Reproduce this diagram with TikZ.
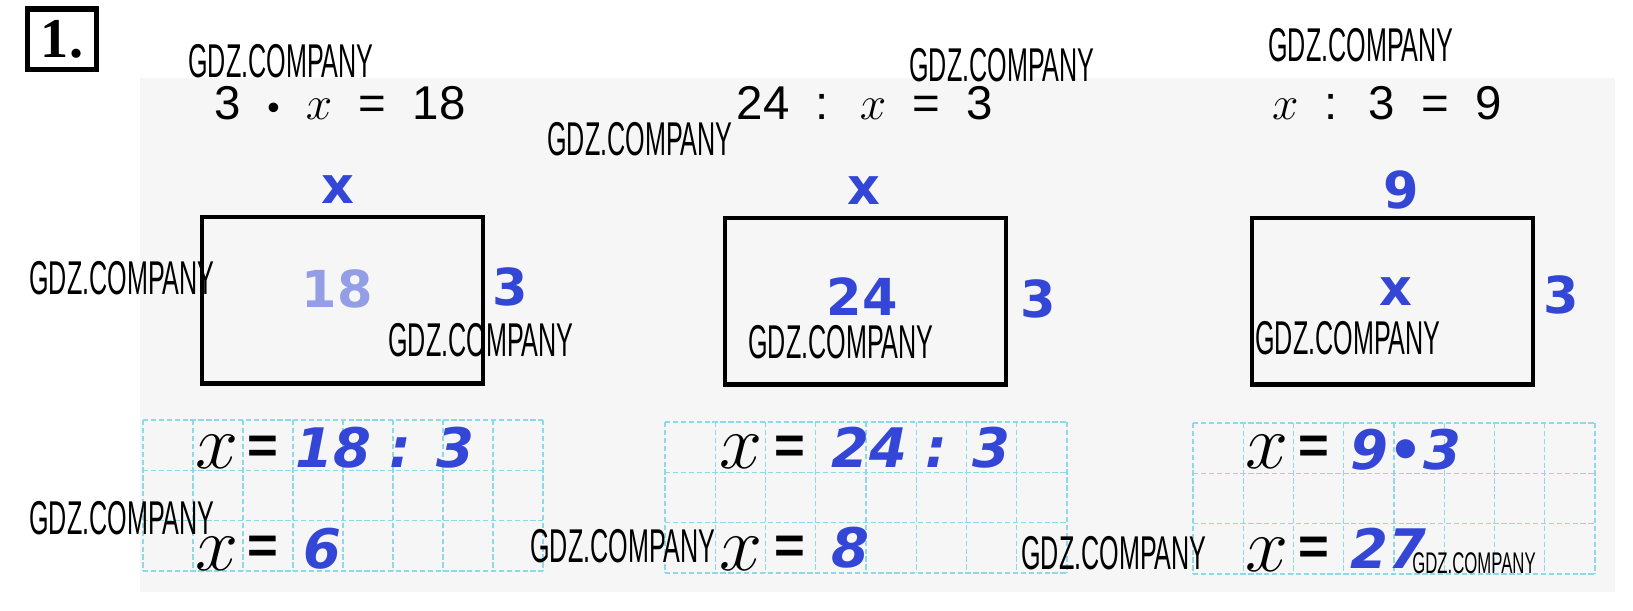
\RequirePackage{fix-cm}
\documentclass[tikz,border=0pt]{standalone}
\usepackage{fontspec}
\setmainfont{Liberation Sans}
\newfontfamily\answerfont{DejaVu Sans}
\newfontfamily\markfont{Liberation Sans}
\newfontfamily\taskfont{Liberation Serif}
\definecolor{inkblue}{RGB}{52,70,214}
\definecolor{fadeblue}{RGB}{148,158,230}
\definecolor{gridcyan}{RGB}{140,218,232}
\definecolor{pagegray}{RGB}{246,246,246}
\newcommand{\smalldot}{{\fontsize{20}{20}\selectfont•}}

\begin{document}
\begin{tikzpicture}[x=0.02cm, y=-0.02cm,
    eqtext/.style={font=\fontsize{27}{30}\selectfont, inner sep=0pt},
    bluemark/.style={font=\answerfont\bfseries\fontsize{29}{32}\selectfont, text=inkblue, inner sep=0pt},
    answer/.style={font=\answerfont\bfseries\itshape\fontsize{31}{34}\selectfont, text=inkblue, inner sep=0pt},
    scriptx/.style={font=\fontsize{44}{46}\selectfont, inner sep=0pt},
    eqsign/.style={font=\bfseries\fontsize{30}{32}\selectfont, inner sep=0pt},
    figbox/.style={draw, line width=2.3pt, minimum width=5.62cm, minimum height=3.34cm, inner sep=0pt},
    gridline/.style={draw=gridcyan, line width=0.6pt, dash pattern=on 3pt off 1.5pt},
    wmark/.style={font=\markfont\fontsize{27}{30}\selectfont, inner sep=0pt}]
  \useasboundingbox (0,0) rectangle (1633,610);
  \fill[pagegray] (140,78) rectangle (1615,592);

  \node[draw, line width=3.4pt, minimum width=1.38cm, minimum height=1.22cm, inner sep=0pt,
        font=\taskfont\bfseries\fontsize{32}{34}\selectfont] (task) at (62,39) {1.};

  \node[eqtext] (eqA) at (340,103) {3 ~\smalldot~ $x$ ~=~ 18};
  \node[eqtext] (eqB) at (865,103) {24 ~:~ $x$ ~=~ 3};
  \node[eqtext] (eqC) at (1387,103) {$x$ ~:~ 3 ~=~ 9};

  \node[figbox] (rectA) at (342.5,300) {};
  \node[figbox] (rectB) at (865.5,301) {};
  \node[figbox] (rectC) at (1392.5,301) {};

  \node[bluemark] (topA) at (338,190) {x};
  \node[bluemark] (inA) at (337,289) {\color{fadeblue}18};
  \node[bluemark] (sideA) at (510,287) {3};
  \node[bluemark] (topB) at (864,191) {x};
  \node[bluemark] (inB) at (862,297) {24};
  \node[bluemark] (sideB) at (1038,299) {3};
  \node[bluemark] (topC) at (1401,190) {9};
  \node[bluemark] (inC) at (1396,292) {x};
  \node[bluemark] (sideC) at (1561,295) {3};

  \foreach \gx/\gy/\gw in {143/420/50, 665/422/50.25, 1193/423/50.25} {
    \foreach \i in {0,...,8}
      \draw[gridline] (\gx+\i*\gw,\gy) -- (\gx+\i*\gw,\gy+151);
    \foreach \j in {0,...,3}
      \draw[gridline] (\gx,\gy+\j*50.33) -- (\gx+8*\gw,\gy+\j*50.33);
  }

  \node[scriptx] (xA1) at (217,452) {$x$};
  \node[eqsign] (eqsA1) at (263,450) {=};
  \node[answer] (solA1) at (385,448) {18 : 3};
  \node[scriptx] (xA2) at (217,554) {$x$};
  \node[eqsign] (eqsA2) at (263,550) {=};
  \node[answer] (solA2) at (322,549) {6};

  \node[scriptx] (xB1) at (741,452) {$x$};
  \node[eqsign] (eqsB1) at (790,450) {=};
  \node[answer] (solB1) at (921,448) {24 : 3};
  \node[scriptx] (xB2) at (741,554) {$x$};
  \node[eqsign] (eqsB2) at (790,550) {=};
  \node[answer] (solB2) at (850,548) {8};

  \node[scriptx] (xC1) at (1267,452) {$x$};
  \node[eqsign] (eqsC1) at (1314,450) {=};
  \node[answer] (solC1) at (1406,450) {9•3};
  \node[scriptx] (xC2) at (1267,555) {$x$};
  \node[eqsign] (eqsC2) at (1314,551) {=};
  \node[answer] (solC2) at (1388,548) {27};

  \node[wmark] (wm1) at (281,61) {\scalebox{0.53}[1]{GDZ.COMPANY}};
  \node[wmark] (wm2) at (640,139) {\scalebox{0.53}[1]{GDZ.COMPANY}};
  \node[wmark] (wm3) at (1002,65) {\scalebox{0.53}[1]{GDZ.COMPANY}};
  \node[wmark] (wm4) at (1361,45) {\scalebox{0.53}[1]{GDZ.COMPANY}};
  \node[wmark] (wm5) at (122,278) {\scalebox{0.53}[1]{GDZ.COMPANY}};
  \node[wmark] (wm6) at (481,340) {\scalebox{0.53}[1]{GDZ.COMPANY}};
  \node[wmark] (wm7) at (841,342) {\scalebox{0.53}[1]{GDZ.COMPANY}};
  \node[wmark] (wm8) at (1348,338) {\scalebox{0.53}[1]{GDZ.COMPANY}};
  \node[wmark] (wm9) at (122,518) {\scalebox{0.53}[1]{GDZ.COMPANY}};
  \node[wmark] (wm10) at (623,546) {\scalebox{0.53}[1]{GDZ.COMPANY}};
  \node[wmark] (wm11) at (1114,553) {\scalebox{0.53}[1]{GDZ.COMPANY}};
  \node[wmark, font=\markfont\fontsize{17}{19}\selectfont] (wm12) at (1474,563) {\scalebox{0.56}[1]{GDZ.COMPANY}};
\end{tikzpicture}
\end{document}
